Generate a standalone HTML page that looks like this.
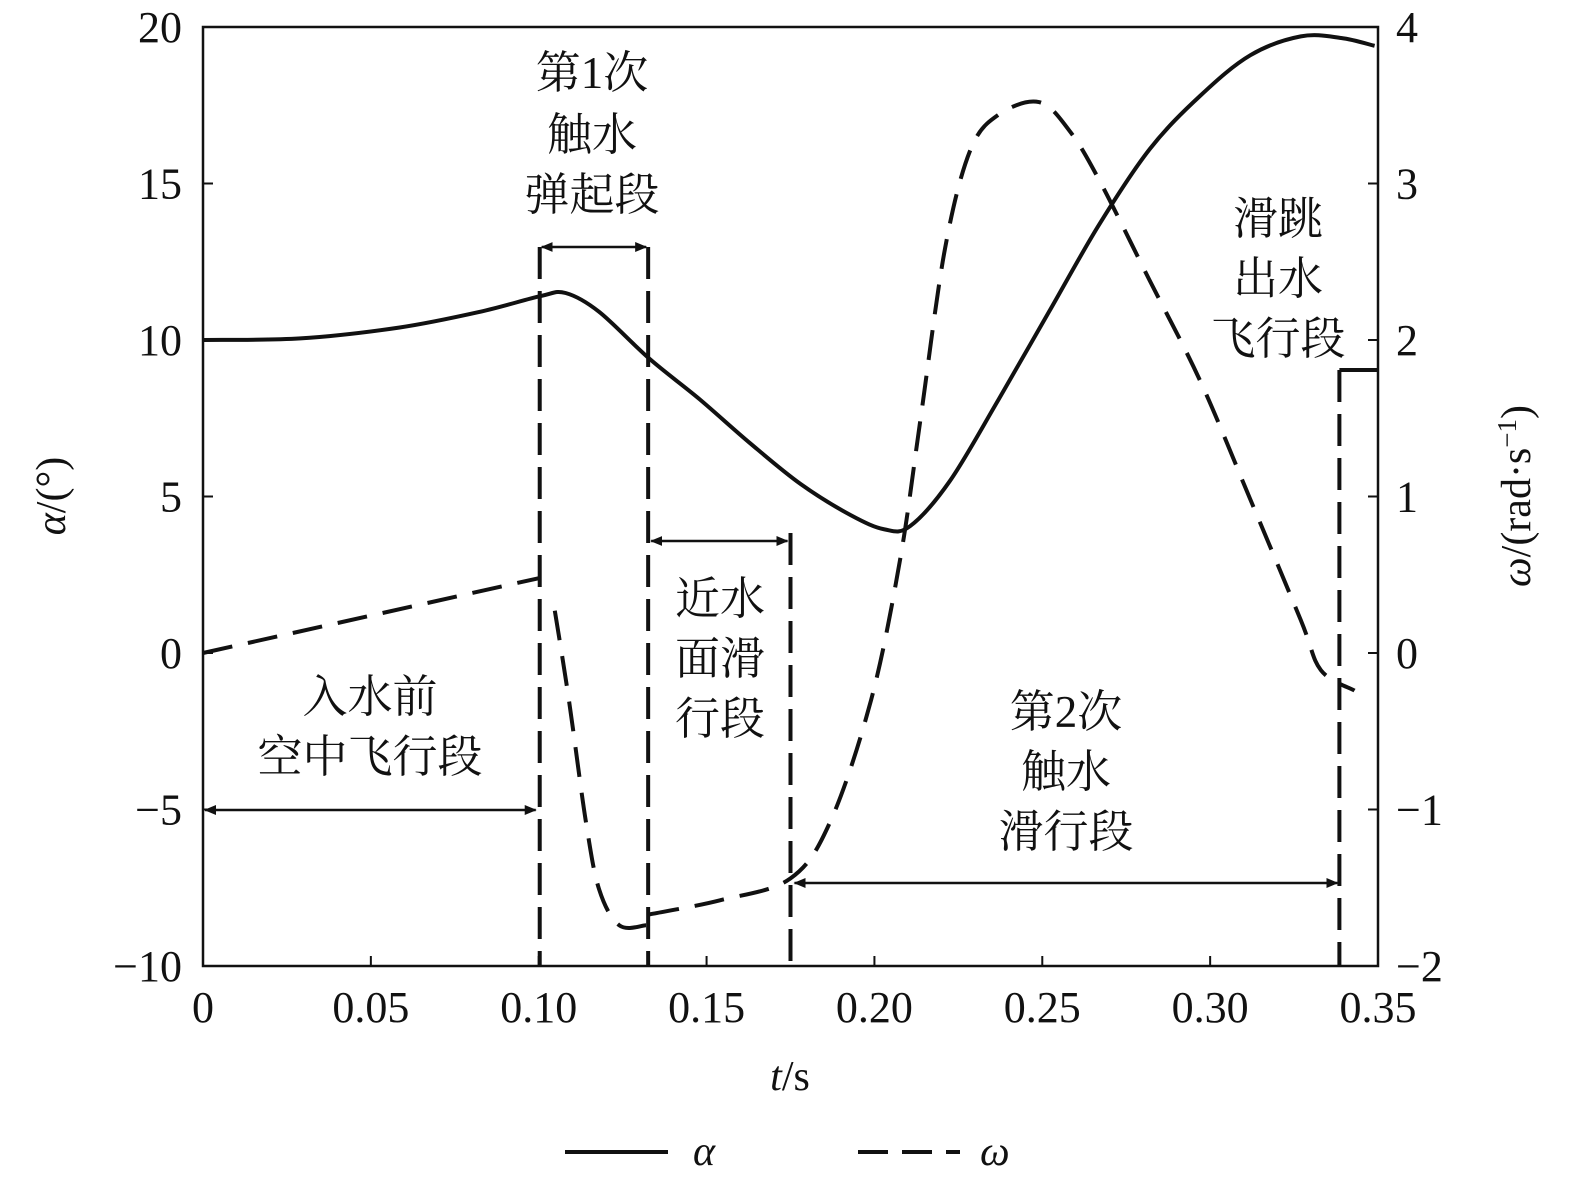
<!DOCTYPE html>
<html><head><meta charset="utf-8"><style>
html,body{margin:0;padding:0;background:#fff;}
svg text{font-family:"Liberation Serif","Noto Serif CJK SC",serif;fill:#111;}
.cn{font-size:45px;}
</style></head><body>
<svg id="chart" width="1575" height="1184" viewBox="0 0 1575 1184" xmlns="http://www.w3.org/2000/svg">
<defs>
<marker id="ar" markerWidth="12" markerHeight="10" refX="11" refY="5" orient="auto-start-reverse" markerUnits="userSpaceOnUse"><path d="M0,0 L12,5 L0,10 z" fill="#111"/></marker>
</defs>
<g id="axes"></g>
<g id="marks"></g>
<g id="annot">
<text class="cn" x="592" y="88" text-anchor="middle">第1次</text>
<text class="cn" x="592" y="150" text-anchor="middle">触水</text>
<text class="cn" x="592" y="210" text-anchor="middle">弹起段</text>
<text class="cn" x="370" y="712" text-anchor="middle">入水前</text>
<text class="cn" x="370" y="772" text-anchor="middle">空中飞行段</text>
<text class="cn" x="720" y="614" text-anchor="middle">近水</text>
<text class="cn" x="720" y="674" text-anchor="middle">面滑</text>
<text class="cn" x="720" y="734" text-anchor="middle">行段</text>
<text class="cn" x="1066" y="727" text-anchor="middle">第2次</text>
<text class="cn" x="1066" y="787" text-anchor="middle">触水</text>
<text class="cn" x="1066" y="847" text-anchor="middle">滑行段</text>
<text class="cn" x="1278" y="234" text-anchor="middle">滑跳</text>
<text class="cn" x="1278" y="294" text-anchor="middle">出水</text>
<text class="cn" x="1278" y="354" text-anchor="middle">飞行段</text>
</g>
<g id="legend">
<g><line x1="565" y1="1152" x2="668" y2="1152" stroke="#111" stroke-width="4"/><text x="693" y="1165" font-size="42" font-style="italic">α</text></g>
<g><line x1="858" y1="1152" x2="960" y2="1152" stroke="#111" stroke-width="4" stroke-dasharray="30,14"/><text x="980" y="1165" font-size="42" font-style="italic">ω</text></g>
</g>
</svg>
<script>
const alphaT=[0,0.029,0.0586,0.0825,0.1004,0.108,0.118,0.133,0.148,0.163,0.178,0.193,0.203,0.2106,0.2225,0.237,0.252,0.267,0.282,0.297,0.312,0.327,0.339,0.349];
const alphaV=[10,10.05,10.4,10.9,11.4,11.5,10.9,9.4,8.1,6.7,5.4,4.4,3.95,4.05,5.5,8.1,10.9,13.7,16.1,17.8,19.1,19.7,19.65,19.4];
const omegaT1=[0,0.1004];
const omegaV1=[0,0.48];
const omegaT2=[0.1048,0.109,0.114,0.118,0.124,0.132];
const omegaV2=[0.27,-0.3,-1.07,-1.51,-1.74,-1.74];
const omegaT3=[0.133,0.154,0.175,0.187,0.199,0.2076,0.2137,0.221,0.2285,0.237,0.249,0.258,0.267,0.282,0.297,0.312,0.327,0.333,0.343];
const omegaV3=[-1.67,-1.58,-1.44,-1.07,-0.3,0.59,1.49,2.58,3.21,3.44,3.52,3.34,3.02,2.38,1.74,0.98,0.21,-0.11,-0.24];
const xTicks=[0,0.05,0.10,0.15,0.20,0.25,0.30,0.35];
const xTickLabels=["0","0.05","0.10","0.15","0.20","0.25","0.30","0.35"];
const yTicks=[-10,-5,0,5,10,15,20];
const yTickLabels=["−10","−5","0","5","10","15","20"];
const y2Ticks=[-2,-1,0,1,2,3,4];
const y2TickLabels=["−2","−1","0","1","2","3","4"];
const boundaries=[0.1003,0.1326,0.175,0.3385];

const X0=203,X1=1378,YT=27,YB=966;
const sx=t=>X0+(t/0.35)*(X1-X0);
const sy=v=>YB-(v+10)/30*(YB-YT);
const sy2=v=>YB-(v+2)/6*(YB-YT);
const NS='http://www.w3.org/2000/svg';
function mk(tag,attrs,parent){const e=document.createElementNS(NS,tag);for(const k in attrs)e.setAttribute(k,attrs[k]);parent.appendChild(e);return e;}
const axes=document.getElementById('axes'),marks=document.getElementById('marks');
const frame=mk('rect',{x:X0,y:YT,width:X1-X0,height:YB-YT,fill:'none',stroke:'#111','stroke-width':2.5},axes);


xTicks.forEach((t,i)=>{
 const l=mk('line',{x1:sx(t),x2:sx(t),y1:YB,y2:YB-10,stroke:'#111','stroke-width':2},axes);
 
 
 const tx=mk('text',{x:sx(t),y:1022,'font-size':44,'text-anchor':'middle'},axes);tx.textContent=xTickLabels[i];
 
 
});
yTicks.forEach((v,i)=>{
 const l=mk('line',{x1:X0,x2:X0+10,y1:sy(v),y2:sy(v),stroke:'#111','stroke-width':2},axes);
 
 
 const tx=mk('text',{x:182,y:sy(v)+15,'font-size':44,'text-anchor':'end'},axes);tx.textContent=yTickLabels[i];
 
 
});
y2Ticks.forEach((v,i)=>{
 const l=mk('line',{x1:X1,x2:X1-10,y1:sy2(v),y2:sy2(v),stroke:'#111','stroke-width':2},axes);
 
 
 const tx=mk('text',{x:1396,y:sy2(v)+15,'font-size':44},axes);tx.textContent=y2TickLabels[i];
 
 
});
const xt=mk('text',{x:790,y:1090,'font-size':42,'text-anchor':'middle'},axes);
xt.innerHTML='<tspan font-style="italic">t</tspan>/s';


const yt=mk('text',{transform:'translate(65,496) rotate(-90)','font-size':42,'text-anchor':'middle'},axes);
yt.innerHTML='<tspan font-style="italic">α</tspan>/(°)';


const y2t=mk('text',{transform:'translate(1530,496) rotate(-90)','font-size':42,'text-anchor':'middle'},axes);
y2t.innerHTML='<tspan font-style="italic">ω</tspan>/(rad·s<tspan dy="-14" font-size="27">−1</tspan><tspan dy="14">)</tspan>';



function line(T,V,scale,dash,name,smooth){
 const P=T.map((t,i)=>[sx(t),scale(V[i])]);
 let d='M'+P[0][0].toFixed(1)+','+P[0][1].toFixed(1);
 for(let i=0;i<P.length-1;i++){
  if(!smooth){d+=' L'+P[i+1][0].toFixed(1)+','+P[i+1][1].toFixed(1);continue;}
  const p0=P[Math.max(0,i-1)],p1=P[i],p2=P[i+1],p3=P[Math.min(P.length-1,i+2)];
  const c1=[p1[0]+(p2[0]-p0[0])/6,p1[1]+(p2[1]-p0[1])/6];
  const c2=[p2[0]-(p3[0]-p1[0])/6,p2[1]-(p3[1]-p1[1])/6];
  d+=' C'+c1.map(v=>v.toFixed(1)).join(',')+' '+c2.map(v=>v.toFixed(1)).join(',')+' '+p2[0].toFixed(1)+','+p2[1].toFixed(1);
 }
 const p=mk('path',{d:d,fill:'none',stroke:'#111','stroke-width':4,'stroke-linejoin':'round'},marks);
 if(dash)p.setAttribute('stroke-dasharray',dash);
 
 
}
line(alphaT,alphaV,sy,null,'alpha-line',true);
line(omegaT1,omegaV1,sy2,'30,16','omega-line-segment-1',false);
line(omegaT2,omegaV2,sy2,'30,16','omega-line-segment-2',true);
line(omegaT3,omegaV3,sy2,'30,16','omega-line-segment-3',true);

const bTop=[247,247,533,370];
boundaries.forEach((t,i)=>{
 const b=mk('line',{x1:sx(t),x2:sx(t),y1:bTop[i],y2:YB,stroke:'#111','stroke-width':4,'stroke-dasharray':'32,12'},marks);
 
 
});
const cap=mk('line',{x1:sx(boundaries[3]),x2:X1,y1:370,y2:370,stroke:'#111','stroke-width':4},marks);


function arrow(x1,x2,y,name){
 const a=mk('line',{x1:x1,x2:x2,y1:y,y2:y,stroke:'#111','stroke-width':2.5,'marker-start':'url(#ar)','marker-end':'url(#ar)'},marks);
 
 
}
arrow(sx(boundaries[0])+2,sx(boundaries[1])-2,247,'arrow-first-touch');
arrow(X0+2,sx(boundaries[0])-4,810,'arrow-pre-entry');
arrow(sx(boundaries[1])+3,sx(boundaries[2])-3,541,'arrow-near-surface');
arrow(sx(boundaries[2])+4,sx(boundaries[3])-2,883,'arrow-second-touch');
</script>
</body></html>
